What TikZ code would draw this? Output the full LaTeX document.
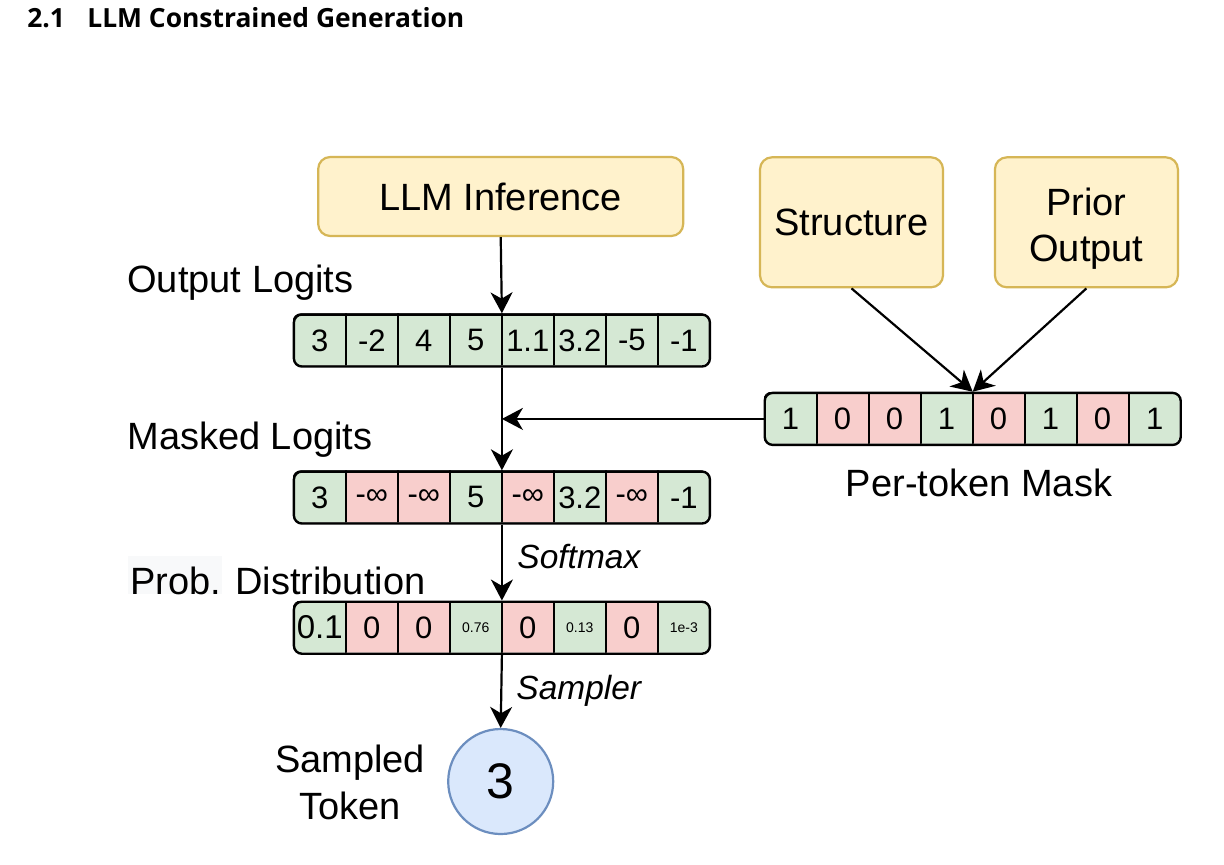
\documentclass[tikz,border=0pt]{standalone}
\usepackage{fontspec}
\setmainfont{Liberation Sans}
\newfontfamily\headfont{Open Sans}[BoldFont={Open Sans Bold}]
\usetikzlibrary{arrows.meta}
\definecolor{yfill}{HTML}{FFF2CC}
\definecolor{ydraw}{HTML}{D6B656}
\definecolor{gfill}{HTML}{D5E8D4}
\definecolor{rfill}{HTML}{F8CECC}
\definecolor{bfill}{HTML}{DAE8FC}
\definecolor{bdraw}{HTML}{6C8EBF}
\definecolor{patch}{HTML}{F8F9FA}
\newcommand{\smalltxt}[1]{{\fontsize{7pt}{8pt}\selectfont #1}}
\newcommand{\bigtxt}[1]{{\fontsize{16.5pt}{18pt}\selectfont #1}}
\newcommand{\tokrow}[4]{%
  \begin{scope}
    \clip[rounded corners=4pt] (#2,#3) rectangle ++(416,52);
    \foreach \c/\t [count=\i] in {#4} {
      \node[cell, fill=\c, anchor=north west] (#1\i) at (#2+52*\i-52,#3) {\t};
    }
  \end{scope}
  \node[rowbox, anchor=north west] (#1) at (#2,#3) {};
}
\tikzset{
  cell/.style={draw, line width=1.1pt, minimum width=26pt, minimum height=26pt, inner sep=0pt,
    font=\fontsize{15.5pt}{18pt}\selectfont},
  rowbox/.style={draw, line width=1.2pt, rounded corners=4pt, minimum width=208pt, minimum height=26pt, inner sep=0pt},
  ybox/.style={draw=ydraw, fill=yfill, line width=1.1pt, rounded corners=6pt, inner sep=0pt, align=center,
    font=\fontsize{19pt}{23pt}\selectfont},
  lbl/.style={anchor=base west, inner sep=0pt, font=\fontsize{19pt}{23.5pt}\selectfont},
  ilbl/.style={anchor=base west, inner sep=0pt, font=\fontsize{16.75pt}{20pt}\selectfont\itshape},
  arr/.style={-{Stealth[length=10.5pt,width=11pt,inset=3.2pt]}, line width=1.1pt},
  head/.style={anchor=base west, inner sep=0pt, font=\headfont\bfseries\fontsize{13.2pt}{16pt}\selectfont}
}
\begin{document}
\begin{tikzpicture}[x=0.5pt, y=-0.5pt]
\useasboundingbox[fill=white] (0,0) rectangle (1224,864);
% header
\node[head] (hnum) at (27,27.7) {2.1};
\node[head] (htitle) at (87,27.7) {LLM Constrained Generation};
% top boxes
\node[ybox, minimum width=182.5pt, minimum height=39.5pt] (llm) at (500.7,196.5) {LLM Inference};
\node[ybox, minimum width=91.5pt, minimum height=65pt] (struct) at (851.5,222.3) {Structure};
\node[ybox, minimum width=91.5pt, minimum height=65pt, text height=39pt, text depth=0pt] (prior) at (1086.4,222.3) {Prior\\Output};
% labels
\node[lbl] (lout) at (127,292.3) {Output Logits};
\node[lbl] (lmasked) at (127,449.3) {Masked Logits};
\fill[patch] (128,556) rectangle (222,594);
\node[lbl] (lprob) at (130,594.5) {Prob. Distribution};
\node[lbl, anchor=base] (lmask) at (979,496.7) {Per-token Mask};
% rows
\tokrow{out}{292.7}{313.3}{gfill/3,gfill/-2,gfill/4,gfill/5,gfill/1.1,gfill/3.2,gfill/-5,gfill/-1}
\tokrow{masked}{292.7}{470.3}{gfill/3,rfill/-∞,rfill/-∞,gfill/5,rfill/-∞,gfill/3.2,rfill/-∞,gfill/-1}
\tokrow{prob}{292.7}{600.5}{gfill/\bigtxt{0.1},rfill/0,rfill/0,gfill/\smalltxt{0.76},rfill/0,gfill/\smalltxt{0.13},rfill/0,gfill/\smalltxt{1e-3}}
\tokrow{mask}{763.5}{391.7}{gfill/1,rfill/0,rfill/0,gfill/1,rfill/0,gfill/1,rfill/0,gfill/1}
% sampled token
\node[circle, draw=bdraw, fill=bfill, line width=1.1pt, minimum size=52.5pt, inner sep=0pt,
  font=\fontsize{25pt}{30pt}\selectfont] (tok) at (500.7,781.5) {3};
\node[anchor=base, inner sep=0pt, align=center, font=\fontsize{19pt}{23.5pt}\selectfont] (ltok) at (350,819) {Sampled\\Token};
% connectors
\draw[arr] (llm.south) -- (out.north);
\draw[arr] (out.south) -- (masked.north);
\coordinate (mj) at (out.south |- mask.west);
\draw[arr] (mask.west) -- (mj);
\draw[arr] (masked.south) -- (prob.north);
\draw[arr] (prob.south) -- (tok.north);
\draw[arr] (struct.south) -- (mask.north);
\draw[arr] (prior.south) -- (mask.north);
\node[ilbl] (lsoft) at (517,568) {Softmax};
\node[ilbl] (lsamp) at (516,699) {Sampler};
\end{tikzpicture}
\end{document}
